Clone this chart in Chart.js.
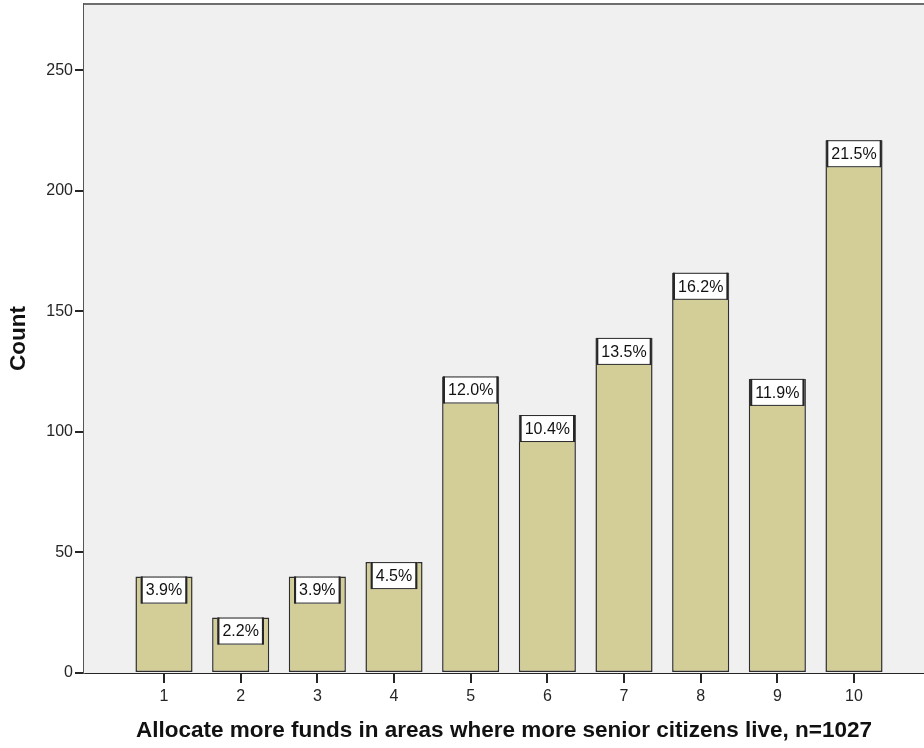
<!DOCTYPE html>
<html>
<head>
<meta charset="utf-8">
<script src="https://cdn.jsdelivr.net/npm/chart.js@4.4.1/dist/chart.umd.min.js"></script>
<style>
  html, body { margin: 0; padding: 0; background: #fff; overflow: hidden; }
  #wrap { width: 924px; height: 748px; }
</style>
</head>
<body>
<div id="wrap"><canvas id="chart" width="924" height="748"></canvas></div>
<script>
// values
const categories = [1, 2, 3, 4, 5, 6, 7, 8, 9, 10];
const counts = [40, 23, 40, 46, 123, 107, 139, 166, 122, 221];
const percents = [3.9, 2.2, 3.9, 4.5, 12.0, 10.4, 13.5, 16.2, 11.9, 21.5];
const yTicks = [0, 50, 100, 150, 200, 250];

const FONT = "'Liberation Sans', Arial, sans-serif";
const INK = '#262626';

// grey plot background + top frame line
const plotFrame = {
  id: 'plotFrame',
  beforeDatasetsDraw(chart) {
    const { ctx, chartArea: a } = chart;
    ctx.save();
    ctx.fillStyle = '#f0f0f0';
    ctx.fillRect(a.left, a.top, a.right - a.left, a.bottom - a.top);
    ctx.restore();
  },
  afterDraw(chart) {
    const { ctx, chartArea: a } = chart;
    ctx.save();
    ctx.strokeStyle = '#6e6e6e';
    ctx.lineWidth = 2;
    ctx.beginPath();
    ctx.moveTo(a.left, a.top);
    ctx.lineTo(a.right, a.top);
    ctx.stroke();
    ctx.restore();
  }
};

// white percentage boxes sitting on top of each bar
const pctBoxes = {
  id: 'pctBoxes',
  afterDatasetsDraw(chart) {
    const { ctx } = chart;
    const meta = chart.getDatasetMeta(0);
    ctx.save();
    ctx.font = '16px ' + FONT;
    ctx.textAlign = 'center';
    ctx.textBaseline = 'middle';
    meta.data.forEach((bar, i) => {
      const txt = percents[i].toFixed(1) + '%';
      const w = Math.min(ctx.measureText(txt).width + 10, bar.width);
      const h = 27;
      const x = bar.x - w / 2;
      const y = bar.y;
      ctx.fillStyle = '#ffffff';
      ctx.fillRect(x, y, w, h);
      ctx.strokeStyle = INK;
      ctx.lineWidth = 1;
      ctx.strokeRect(x + 0.5, y + 0.5, w - 1, h - 1);
      ctx.lineWidth = 2;
      ctx.beginPath();
      ctx.moveTo(x + 1, y); ctx.lineTo(x + 1, y + h);
      ctx.moveTo(x + w - 1, y); ctx.lineTo(x + w - 1, y + h);
      ctx.stroke();
      ctx.fillStyle = '#111';
      ctx.fillText(txt, bar.x, y + h / 2 + 1);
    });
    ctx.restore();
  }
};

new Chart(document.getElementById('chart'), {
  type: 'bar',
  data: {
    datasets: [{
      data: categories.map((c, i) => ({ x: c, y: counts[i] })),
      backgroundColor: '#d3ce98',
      borderColor: '#2e2e2e',
      borderWidth: 1.5,
      borderSkipped: false,
      categoryPercentage: 1,
      barPercentage: 0.745
    }]
  },
  options: {
    responsive: false,
    animation: false,
    layout: { padding: { top: 4, right: 0, left: 0, bottom: 0 } },
    plugins: { legend: { display: false }, tooltip: { enabled: false } },
    scales: {
      x: {
        type: 'linear',
        offset: false,
        min: -0.0435,
        max: 10.913,
        afterBuildTicks: axis => { axis.ticks = categories.map(v => ({ value: v })); },
        afterFit: axis => { axis.height = 75; axis.paddingLeft = 0; axis.paddingRight = 0; },
        grid: { offset: false, drawOnChartArea: false, drawTicks: true, tickLength: 10, color: INK, lineWidth: 2 },
        border: { display: true, color: INK, width: 2 },
        ticks: { color: INK, font: { family: FONT, size: 16 }, padding: 4, maxRotation: 0, autoSkip: false,
          callback: v => String(v) },
        title: { display: true, text: 'Allocate more funds in areas where more senior citizens live, n=1027',
          color: '#111', font: { family: FONT, size: 22.5, weight: 'bold', lineHeight: 1 },
          padding: { top: 0, bottom: 6 } }
      },
      y: {
        min: 0,
        max: 277.5,
        afterBuildTicks: axis => { axis.ticks = yTicks.map(v => ({ value: v })); },
        afterFit: axis => { axis.width = 84; axis.paddingTop = 0; axis.paddingBottom = 0; },
        grid: { drawOnChartArea: false, drawTicks: true, tickLength: 9, color: INK, lineWidth: 2 },
        border: { display: true, color: '#555', width: 2 },
        ticks: { color: INK, font: { family: FONT, size: 16 }, padding: 2 },
        title: { display: true, text: 'Count', color: '#111',
          font: { family: FONT, size: 22.5, weight: 'bold', lineHeight: 1 },
          padding: { top: 8, bottom: 0 } }
      }
    }
  },
  plugins: [plotFrame, pctBoxes]
});
</script>
</body>
</html>
